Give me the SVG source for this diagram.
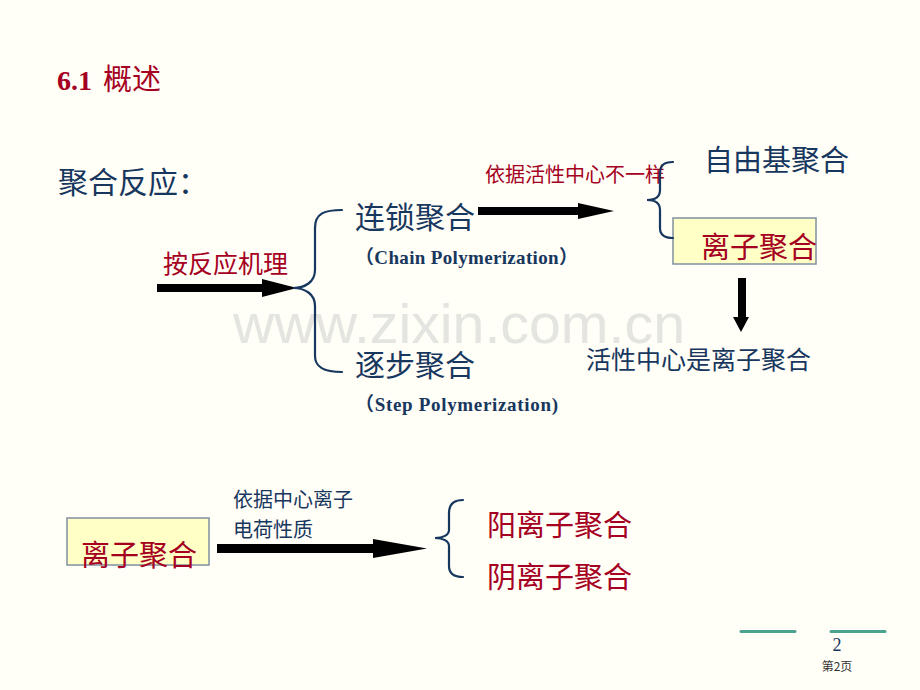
<svg xmlns="http://www.w3.org/2000/svg" width="920" height="690" viewBox="0 0 920 690">
<defs>
<style>
.cjk{font-family:"Noto Sans CJK SC","Liberation Sans",sans-serif;}
.navy{fill:#17375E;}
.red{fill:#A50021;}
.brace{fill:none;stroke:#17375E;stroke-width:2.2;stroke-linecap:round;}
.arr{fill:#000;}
.box{fill:#FFFFC6;stroke:#8090A0;stroke-width:1.5;}
.en{font-family:"Liberation Serif","Noto Sans CJK SC",serif;font-weight:bold;font-size:19px;}
</style>
</defs>
<rect x="0" y="0" width="920" height="690" fill="#FFFEF7"/>
<text x="233" y="343" font-family="Liberation Sans, Arial, sans-serif" font-size="56" fill="#E4E4E0" textLength="452" lengthAdjust="spacingAndGlyphs">www.zixin.com.cn</text>

<g id="title">
<text x="57" y="90" class="red"><tspan font-family="Liberation Serif, serif" font-weight="bold" font-size="28">6.1</tspan><tspan class="cjk" font-size="29" dx="11">概述</tspan></text>
</g>
<g id="heading">
<text x="58" y="193" class="cjk navy" font-size="30">聚合反应：</text>
</g>
<g id="mechanism-label">
<text x="163" y="273" class="cjk red" font-size="25">按反应机理</text>
</g>
<g id="chain">
<text x="355" y="228" class="cjk navy" font-size="30">连锁聚合</text>
<text x="355" y="264" class="en navy" textLength="223" lengthAdjust="spacing">（Chain Polymerization）</text>
</g>
<g id="step">
<text x="355" y="376" class="cjk navy" font-size="30">逐步聚合</text>
<text x="355" y="411" class="en navy" textLength="203" lengthAdjust="spacing">（Step Polymerization)</text>
</g>
<g id="active-center-label">
<text x="485" y="182" class="cjk red" font-size="20">依据活性中心不一样</text>
</g>
<g id="free-radical">
<text x="704" y="171" class="cjk navy" font-size="29">自由基聚合</text>
</g>
<g id="ionic-top">
<rect x="673" y="218" width="143" height="46" class="box"/>
<text x="701" y="258" class="cjk red" font-size="29">离子聚合</text>
</g>
<g id="ionic-note">
<text x="586" y="369" class="cjk navy" font-size="25">活性中心是离子聚合</text>
</g>
<g id="ionic-bottom">
<rect x="67" y="518" width="142" height="47" class="box"/>
<text x="81" y="566" class="cjk red" font-size="29">离子聚合</text>
</g>
<g id="charge-label">
<text x="233" y="507" class="cjk navy" font-size="20">依据中心离子</text>
<text x="233" y="537" class="cjk navy" font-size="20">电荷性质</text>
</g>
<g id="cationic">
<text x="487" y="536" class="cjk red" font-size="29">阳离子聚合</text>
</g>
<g id="anionic">
<text x="487" y="588" class="cjk red" font-size="29">阴离子聚合</text>
</g>

<g id="connectors">
<rect x="157" y="284" width="108" height="8" class="arr"/>
<polygon points="262,279 297,288 262,297" class="arr"/>
<path class="brace" d="M342,210 C325,210 315,213 315,228 L315,270 C315,282 305,288 293,288 C305,288 315,294 315,306 L315,356 C315,368 325,372 342,372"/>
<rect x="478" y="207" width="102" height="8" class="arr"/>
<polygon points="578,203 614,211 578,219" class="arr"/>
<path class="brace" d="M673,162 C663,162 660,166 660,174 L660,190 C660,197 655,200 647,200 C655,200 660,203 660,210 L660,228 C660,235 664,238 673,238"/>
<rect x="738" y="278" width="8" height="41" class="arr"/>
<polygon points="733,317 749,317 741,332" class="arr"/>
<rect x="217" y="544" width="158" height="9" class="arr"/>
<polygon points="373,539 427,548.5 373,558" class="arr"/>
<path class="brace" d="M463,500 C453,500 449,505 449,513 L449,530 C449,535 443,538 435,538 C443,538 449,541 449,546 L449,566 C449,573 453,577 463,577"/>
</g>

<g id="footer">
<line x1="741" y1="631.5" x2="795" y2="631.5" stroke="#4BA38F" stroke-width="3" stroke-linecap="round"/>
<line x1="831" y1="631.5" x2="885" y2="631.5" stroke="#4BA38F" stroke-width="3" stroke-linecap="round"/>
<text x="837" y="651" text-anchor="middle" font-family="Liberation Serif, serif" font-size="18" class="navy">2</text>
<text x="837" y="671" text-anchor="middle" class="cjk" font-size="12" fill="#333">第2页</text>
</g>
</svg>
